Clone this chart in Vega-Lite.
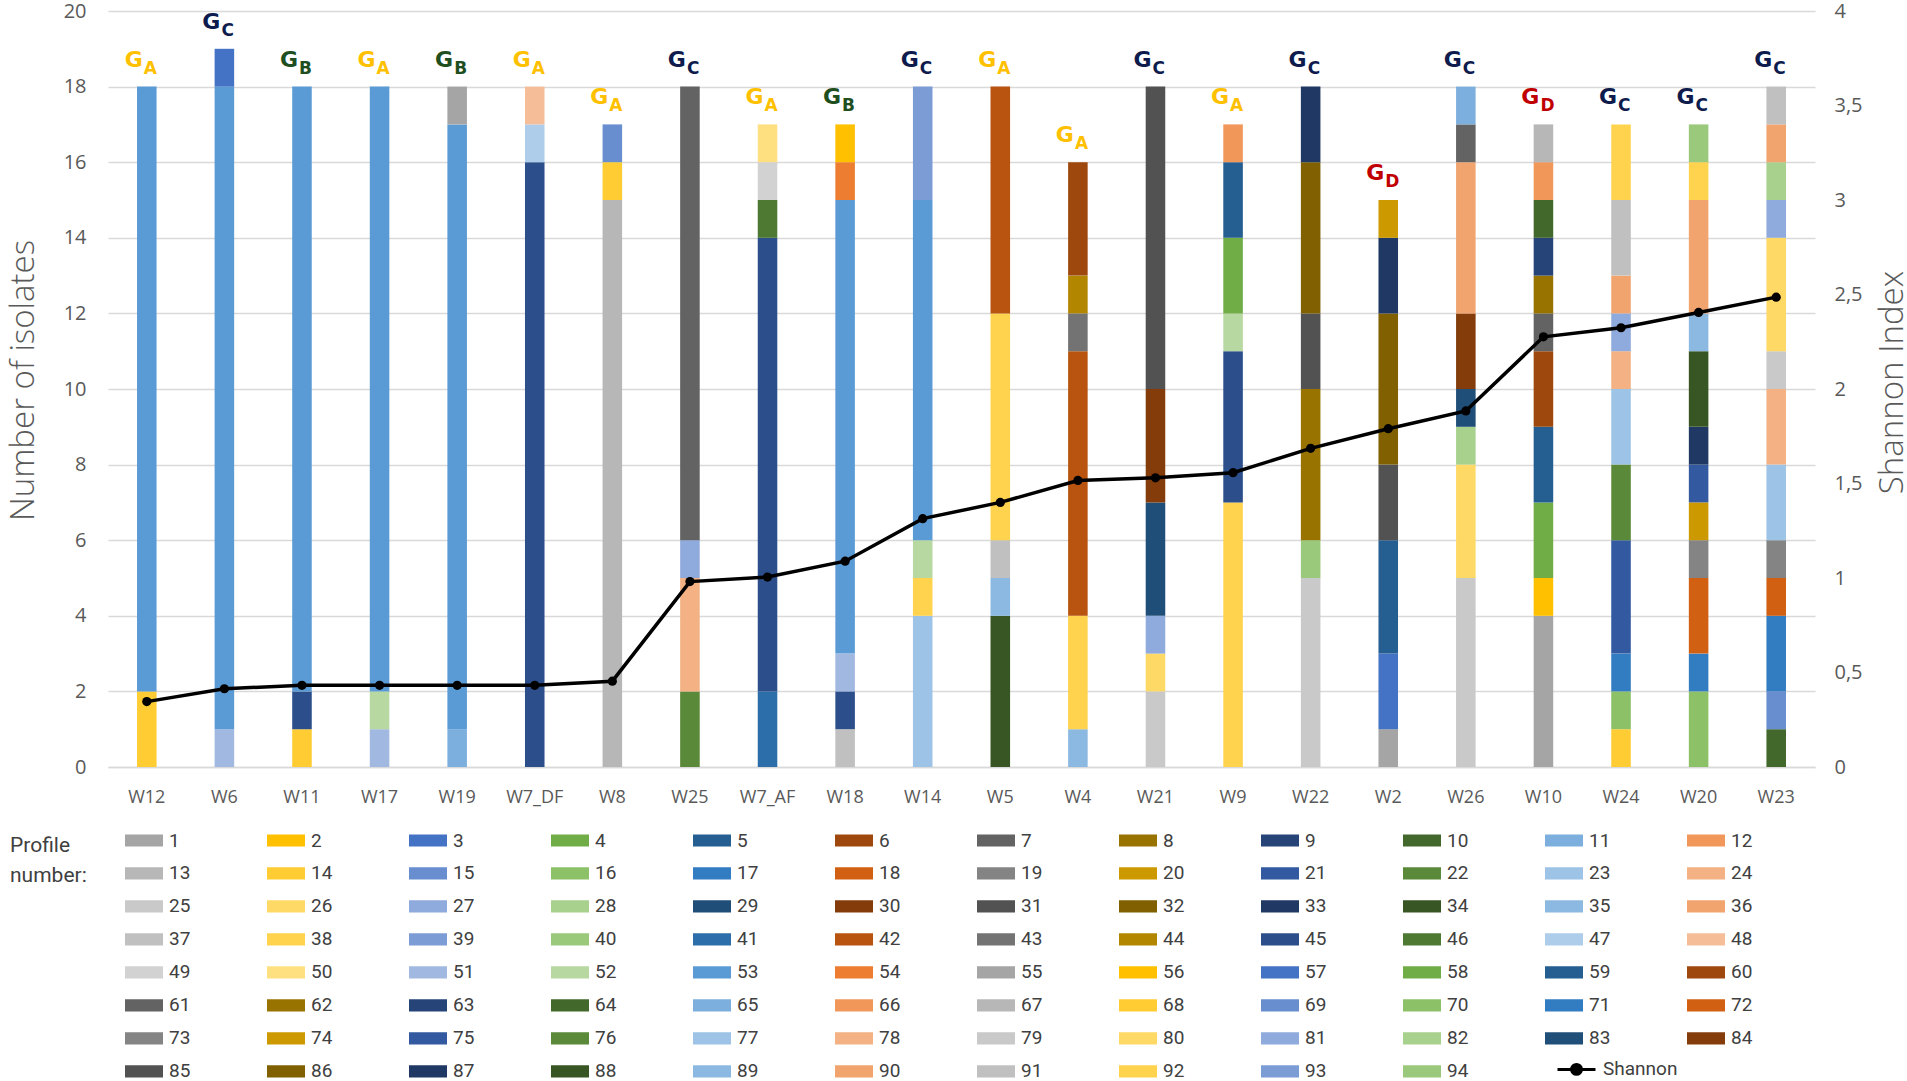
{
  "$schema": "https://vega.github.io/schema/vega-lite/v6.json",
  "description": "Profile composition and Shannon index per sample",
  "autosize": {"type": "none"},
  "padding": {"left": 108, "top": 11, "right": 92, "bottom": 314},
  "width": 1707,
  "height": 756,
  "background": "white",
  "config": {"view": {"stroke": null}, "font": "Open Sans"},
  "datasets": {
    "samples": [
      {"sample": "W12", "group": "A", "shannon": 0.346},
      {"sample": "W6", "group": "C", "shannon": 0.414},
      {"sample": "W11", "group": "B", "shannon": 0.432},
      {"sample": "W17", "group": "A", "shannon": 0.432},
      {"sample": "W19", "group": "B", "shannon": 0.432},
      {"sample": "W7_DF", "group": "A", "shannon": 0.432},
      {"sample": "W8", "group": "A", "shannon": 0.454},
      {"sample": "W25", "group": "C", "shannon": 0.981},
      {"sample": "W7_AF", "group": "A", "shannon": 1.005},
      {"sample": "W18", "group": "B", "shannon": 1.089},
      {"sample": "W14", "group": "C", "shannon": 1.314},
      {"sample": "W5", "group": "A", "shannon": 1.4},
      {"sample": "W4", "group": "A", "shannon": 1.516},
      {"sample": "W21", "group": "C", "shannon": 1.53},
      {"sample": "W9", "group": "A", "shannon": 1.557},
      {"sample": "W22", "group": "C", "shannon": 1.686},
      {"sample": "W2", "group": "D", "shannon": 1.79},
      {"sample": "W26", "group": "C", "shannon": 1.884},
      {"sample": "W10", "group": "D", "shannon": 2.276},
      {"sample": "W24", "group": "C", "shannon": 2.324},
      {"sample": "W20", "group": "C", "shannon": 2.405},
      {"sample": "W23", "group": "C", "shannon": 2.486}
    ],
    "segments": [
      {"sample": "W12", "profile": 14, "n": 2}, {"sample": "W12", "profile": 53, "n": 16},
      {"sample": "W6", "profile": 51, "n": 1}, {"sample": "W6", "profile": 53, "n": 17}, {"sample": "W6", "profile": 57, "n": 1},
      {"sample": "W11", "profile": 14, "n": 1}, {"sample": "W11", "profile": 45, "n": 1}, {"sample": "W11", "profile": 53, "n": 16},
      {"sample": "W17", "profile": 51, "n": 1}, {"sample": "W17", "profile": 52, "n": 1}, {"sample": "W17", "profile": 53, "n": 16},
      {"sample": "W19", "profile": 11, "n": 1}, {"sample": "W19", "profile": 53, "n": 16}, {"sample": "W19", "profile": 55, "n": 1},
      {"sample": "W7_DF", "profile": 45, "n": 16}, {"sample": "W7_DF", "profile": 47, "n": 1}, {"sample": "W7_DF", "profile": 48, "n": 1},
      {"sample": "W8", "profile": 67, "n": 15}, {"sample": "W8", "profile": 68, "n": 1}, {"sample": "W8", "profile": 69, "n": 1},
      {"sample": "W25", "profile": 22, "n": 2}, {"sample": "W25", "profile": 24, "n": 3}, {"sample": "W25", "profile": 27, "n": 1}, {"sample": "W25", "profile": 61, "n": 12},
      {"sample": "W7_AF", "profile": 41, "n": 2}, {"sample": "W7_AF", "profile": 45, "n": 12}, {"sample": "W7_AF", "profile": 46, "n": 1}, {"sample": "W7_AF", "profile": 49, "n": 1}, {"sample": "W7_AF", "profile": 50, "n": 1},
      {"sample": "W18", "profile": 37, "n": 1}, {"sample": "W18", "profile": 45, "n": 1}, {"sample": "W18", "profile": 51, "n": 1}, {"sample": "W18", "profile": 53, "n": 12}, {"sample": "W18", "profile": 54, "n": 1}, {"sample": "W18", "profile": 56, "n": 1},
      {"sample": "W14", "profile": 23, "n": 4}, {"sample": "W14", "profile": 38, "n": 1}, {"sample": "W14", "profile": 52, "n": 1}, {"sample": "W14", "profile": 53, "n": 9}, {"sample": "W14", "profile": 93, "n": 3},
      {"sample": "W5", "profile": 34, "n": 4}, {"sample": "W5", "profile": 35, "n": 1}, {"sample": "W5", "profile": 37, "n": 1}, {"sample": "W5", "profile": 38, "n": 6}, {"sample": "W5", "profile": 42, "n": 6},
      {"sample": "W4", "profile": 35, "n": 1}, {"sample": "W4", "profile": 38, "n": 3}, {"sample": "W4", "profile": 42, "n": 7}, {"sample": "W4", "profile": 43, "n": 1}, {"sample": "W4", "profile": 44, "n": 1}, {"sample": "W4", "profile": 60, "n": 3},
      {"sample": "W21", "profile": 25, "n": 2}, {"sample": "W21", "profile": 26, "n": 1}, {"sample": "W21", "profile": 27, "n": 1}, {"sample": "W21", "profile": 29, "n": 3}, {"sample": "W21", "profile": 30, "n": 3}, {"sample": "W21", "profile": 31, "n": 8},
      {"sample": "W9", "profile": 38, "n": 7}, {"sample": "W9", "profile": 45, "n": 4}, {"sample": "W9", "profile": 52, "n": 1}, {"sample": "W9", "profile": 58, "n": 2}, {"sample": "W9", "profile": 59, "n": 2}, {"sample": "W9", "profile": 66, "n": 1},
      {"sample": "W22", "profile": 25, "n": 5}, {"sample": "W22", "profile": 40, "n": 1}, {"sample": "W22", "profile": 62, "n": 4}, {"sample": "W22", "profile": 85, "n": 2}, {"sample": "W22", "profile": 86, "n": 4}, {"sample": "W22", "profile": 87, "n": 2},
      {"sample": "W2", "profile": 1, "n": 1}, {"sample": "W2", "profile": 3, "n": 2}, {"sample": "W2", "profile": 5, "n": 3}, {"sample": "W2", "profile": 31, "n": 2}, {"sample": "W2", "profile": 32, "n": 4}, {"sample": "W2", "profile": 33, "n": 2}, {"sample": "W2", "profile": 74, "n": 1},
      {"sample": "W26", "profile": 25, "n": 5}, {"sample": "W26", "profile": 26, "n": 3}, {"sample": "W26", "profile": 28, "n": 1}, {"sample": "W26", "profile": 29, "n": 1}, {"sample": "W26", "profile": 30, "n": 2}, {"sample": "W26", "profile": 36, "n": 4}, {"sample": "W26", "profile": 61, "n": 1}, {"sample": "W26", "profile": 65, "n": 1},
      {"sample": "W10", "profile": 1, "n": 4}, {"sample": "W10", "profile": 2, "n": 1}, {"sample": "W10", "profile": 4, "n": 2}, {"sample": "W10", "profile": 5, "n": 2}, {"sample": "W10", "profile": 6, "n": 2}, {"sample": "W10", "profile": 7, "n": 1}, {"sample": "W10", "profile": 8, "n": 1}, {"sample": "W10", "profile": 9, "n": 1}, {"sample": "W10", "profile": 10, "n": 1}, {"sample": "W10", "profile": 12, "n": 1}, {"sample": "W10", "profile": 13, "n": 1},
      {"sample": "W24", "profile": 14, "n": 1}, {"sample": "W24", "profile": 16, "n": 1}, {"sample": "W24", "profile": 17, "n": 1}, {"sample": "W24", "profile": 21, "n": 3}, {"sample": "W24", "profile": 22, "n": 2}, {"sample": "W24", "profile": 23, "n": 2}, {"sample": "W24", "profile": 24, "n": 1}, {"sample": "W24", "profile": 27, "n": 1}, {"sample": "W24", "profile": 36, "n": 1}, {"sample": "W24", "profile": 37, "n": 2}, {"sample": "W24", "profile": 38, "n": 2},
      {"sample": "W20", "profile": 70, "n": 2}, {"sample": "W20", "profile": 71, "n": 1}, {"sample": "W20", "profile": 72, "n": 2}, {"sample": "W20", "profile": 73, "n": 1}, {"sample": "W20", "profile": 74, "n": 1}, {"sample": "W20", "profile": 75, "n": 1}, {"sample": "W20", "profile": 87, "n": 1}, {"sample": "W20", "profile": 88, "n": 2}, {"sample": "W20", "profile": 89, "n": 1}, {"sample": "W20", "profile": 90, "n": 3}, {"sample": "W20", "profile": 92, "n": 1}, {"sample": "W20", "profile": 94, "n": 1},
      {"sample": "W23", "profile": 64, "n": 1}, {"sample": "W23", "profile": 69, "n": 1}, {"sample": "W23", "profile": 71, "n": 2}, {"sample": "W23", "profile": 72, "n": 1}, {"sample": "W23", "profile": 73, "n": 1}, {"sample": "W23", "profile": 77, "n": 2}, {"sample": "W23", "profile": 78, "n": 2}, {"sample": "W23", "profile": 79, "n": 1}, {"sample": "W23", "profile": 80, "n": 3}, {"sample": "W23", "profile": 81, "n": 1}, {"sample": "W23", "profile": 82, "n": 1}, {"sample": "W23", "profile": 90, "n": 1}, {"sample": "W23", "profile": 91, "n": 1}
    ]
  },
  "layer": [
    {
      "data": {"name": "segments"},
      "mark": {"type": "bar", "width": {"band": 0.28}},
      "encoding": {
        "x": {
          "field": "sample",
          "type": "nominal",
          "sort": ["W12", "W6", "W11", "W17", "W19", "W7_DF", "W8", "W25", "W7_AF", "W18", "W14", "W5", "W4", "W21", "W9", "W22", "W2", "W26", "W10", "W24", "W20", "W23"],
          "title": null,
          "axis": {
            "labelAngle": 0,
            "labelFont": "Open Sans",
            "labelFontSize": 18,
            "labelColor": "#595959",
            "labelPadding": 21,
            "ticks": false,
            "domainColor": "#D9D9D9",
            "domainWidth": 1.5
          }
        },
        "y": {
          "field": "n",
          "type": "quantitative",
          "stack": "zero",
          "scale": {"domain": [0, 20]},
          "axis": {
            "title": "Number of isolates",
            "values": [0, 2, 4, 6, 8, 10, 12, 14, 16, 18, 20],
            "grid": true,
            "gridColor": "#D9D9D9",
            "gridWidth": 1.3,
            "domain": false,
            "ticks": false,
            "labelPadding": 22,
            "labelFont": "Open Sans",
            "labelFontSize": 20,
            "labelColor": "#595959",
            "titleFont": "Open Sans",
            "titleFontSize": 33,
            "titleFontWeight": 300,
            "titleColor": "#595959",
            "titleAngle": 270,
            "titleBaseline": "alphabetic",
            "titleAlign": "center",
            "titleX": -75,
            "titleY": 369
          }
        },
        "color": {
          "field": "profile",
          "type": "nominal",
          "scale": {
            "domain": [1, 2, 3, 4, 5, 6, 7, 8, 9, 10, 11, 12, 13, 14, 15, 16, 17, 18, 19, 20, 21, 22, 23, 24, 25, 26, 27, 28, 29, 30, 31, 32, 33, 34, 35, 36, 37, 38, 39, 40, 41, 42, 43, 44, 45, 46, 47, 48, 49, 50, 51, 52, 53, 54, 55, 56, 57, 58, 59, 60, 61, 62, 63, 64, 65, 66, 67, 68, 69, 70, 71, 72, 73, 74, 75, 76, 77, 78, 79, 80, 81, 82, 83, 84, 85, 86, 87, 88, 89, 90, 91, 92, 93, 94],
            "range": ["#A5A5A5", "#FFC000", "#4472C4", "#70AD47", "#255E91", "#9E480E", "#636363", "#997300", "#264478", "#43682B", "#7CAFDD", "#F1975A", "#B7B7B7", "#FFCD33", "#698ED0", "#8CC168", "#327DC2", "#D26012", "#848484", "#CC9A00", "#335AA1", "#5A8A39", "#9DC3E6", "#F4B183", "#C9C9C9", "#FFD966", "#8FAADC", "#A9D18E", "#1F4E79", "#843C0B", "#525252", "#806000", "#203864", "#385623", "#8CB9E2", "#F2A46F", "#C0C0C0", "#FFD34D", "#7C9CD6", "#9AC97B", "#2B6EA9", "#B85410", "#737373", "#B38600", "#2C4F8C", "#4E7932", "#ADCDEA", "#F6BE98", "#D2D2D2", "#FFE080", "#A1B8E1", "#B7D8A1", "#5B9BD5", "#ED7D31", "#A5A5A5", "#FFC000", "#4472C4", "#70AD47", "#255E91", "#9E480E", "#636363", "#997300", "#264478", "#43682B", "#7CAFDD", "#F1975A", "#B7B7B7", "#FFCD33", "#698ED0", "#8CC168", "#327DC2", "#D26012", "#848484", "#CC9A00", "#335AA1", "#5A8A39", "#9DC3E6", "#F4B183", "#C9C9C9", "#FFD966", "#8FAADC", "#A9D18E", "#1F4E79", "#843C0B", "#525252", "#806000", "#203864", "#385623", "#8CB9E2", "#F2A46F", "#C0C0C0", "#FFD34D", "#7C9CD6", "#9AC97B"]
          },
          "legend": {
            "orient": "none",
            "direction": "horizontal",
            "legendX": -98,
            "legendY": 813,
            "title": ["Profile", "number:"],
            "titleOrient": "left",
            "titleAngle": 0,
            "titleAnchor": "start",
            "titleBaseline": "top",
            "titleFont": "Liberation Sans Narrow, Roboto, Open Sans",
            "titleFontSize": 21,
            "titleFontWeight": "normal",
            "titleColor": "#404040",
            "titleLineHeight": 30,
            "titlePadding": 38,
            "columns": 12,
            "gridAlign": "all",
            "columnPadding": 76,
            "rowPadding": 0,
            "clipHeight": 32.8,
            "padding": 0,
            "symbolLimit": 100,
            "symbolType": "M-1,-0.32H1V0.32H-1Z",
            "symbolSize": 1444,
            "symbolStrokeWidth": 0,
            "labelFont": "Liberation Sans Narrow, Roboto, Open Sans",
            "labelFontSize": 19,
            "labelColor": "#404040",
            "labelOffset": 6,
            "encode": {"title": {"update": {"dy": {"value": 11}}}}
          }
        },
        "order": {"field": "profile", "type": "quantitative", "sort": "ascending"}
      }
    },
    {
      "data": {"name": "segments"},
      "transform": [
        {"aggregate": [{"op": "sum", "field": "n", "as": "total"}], "groupby": ["sample"]},
        {"lookup": "sample", "from": {"data": {"name": "samples"}, "key": "sample", "fields": ["group"]}}
      ],
      "mark": {"type": "text", "text": "G", "align": "right", "baseline": "alphabetic", "dx": -4, "dy": -20, "font": "DejaVu Sans", "fontWeight": "bold", "fontSize": 22},
      "encoding": {
        "x": {"field": "sample", "type": "nominal", "sort": ["W12", "W6", "W11", "W17", "W19", "W7_DF", "W8", "W25", "W7_AF", "W18", "W14", "W5", "W4", "W21", "W9", "W22", "W2", "W26", "W10", "W24", "W20", "W23"]},
        "y": {"field": "total", "type": "quantitative", "scale": {"domain": [0, 20]}, "axis": null},
        "color": {"field": "group", "type": "nominal", "scale": {"domain": ["A", "B", "C", "D"], "range": ["#FFC000", "#1F4F1F", "#0D1B4D", "#C00000"]}, "legend": null}
      }
    },
    {
      "data": {"name": "segments"},
      "transform": [
        {"aggregate": [{"op": "sum", "field": "n", "as": "total"}], "groupby": ["sample"]},
        {"lookup": "sample", "from": {"data": {"name": "samples"}, "key": "sample", "fields": ["group"]}}
      ],
      "mark": {"type": "text", "align": "left", "baseline": "alphabetic", "dx": -3, "dy": -13, "font": "DejaVu Sans", "fontWeight": "bold", "fontSize": 17},
      "encoding": {
        "x": {"field": "sample", "type": "nominal", "sort": ["W12", "W6", "W11", "W17", "W19", "W7_DF", "W8", "W25", "W7_AF", "W18", "W14", "W5", "W4", "W21", "W9", "W22", "W2", "W26", "W10", "W24", "W20", "W23"]},
        "y": {"field": "total", "type": "quantitative", "scale": {"domain": [0, 20]}, "axis": null},
        "text": {"field": "group", "type": "nominal"},
        "color": {"field": "group", "type": "nominal", "scale": {"domain": ["A", "B", "C", "D"], "range": ["#FFC000", "#1F4F1F", "#0D1B4D", "#C00000"]}, "legend": null}
      }
    },
    {
      "data": {"name": "samples"},
      "mark": {"type": "line", "strokeWidth": 3.5, "point": {"filled": true, "size": 85}},
      "encoding": {
        "x": {"field": "sample", "type": "nominal", "sort": ["W12", "W6", "W11", "W17", "W19", "W7_DF", "W8", "W25", "W7_AF", "W18", "W14", "W5", "W4", "W21", "W9", "W22", "W2", "W26", "W10", "W24", "W20", "W23"]},
        "y": {
          "field": "shannon",
          "type": "quantitative",
          "scale": {"domain": [0, 4]},
          "axis": {
            "orient": "right",
            "title": "Shannon Index",
            "values": [0, 0.5, 1, 1.5, 2, 2.5, 3, 3.5, 4],
            "labelExpr": "replace(format(datum.value, '~g'), '.', ',')",
            "grid": false,
            "domain": false,
            "ticks": false,
            "labelPadding": 19,
            "labelFont": "Open Sans",
            "labelFontSize": 20,
            "labelColor": "#595959",
            "titleFont": "Open Sans",
            "titleFontSize": 33,
            "titleFontWeight": 300,
            "titleColor": "#595959",
            "titleAngle": 270,
            "titleBaseline": "alphabetic",
            "titleAlign": "center",
            "titleX": 87,
            "titleY": 371
          }
        },
        "order": {"value": null},
        "color": {
          "datum": "Shannon",
          "type": "nominal",
          "scale": {"range": ["black"]},
          "legend": {
            "orient": "none",
            "legendX": 1448,
            "legendY": 1042,
            "title": null,
            "padding": 0,
            "clipHeight": 32.8,
            "symbolType": "M-1,0L1,0M-0.26,0A0.26,0.26 0 1,1 0.26,0A0.26,0.26 0 1,1 -0.26,0",
            "symbolSize": 1444,
            "symbolStrokeWidth": 3,
            "symbolFillColor": "black",
            "symbolStrokeColor": "black",
            "labelFont": "Liberation Sans Narrow, Roboto, Open Sans",
            "labelFontSize": 19,
            "labelColor": "#404040",
            "labelOffset": 6,
            "encode": {"symbols": {"update": {"fill": {"value": "black"}, "stroke": {"value": "black"}, "strokeWidth": {"value": 3}}}}
          }
        }
      }
    }
  ],
  "resolve": {"scale": {"y": "independent", "color": "independent"}}
}
